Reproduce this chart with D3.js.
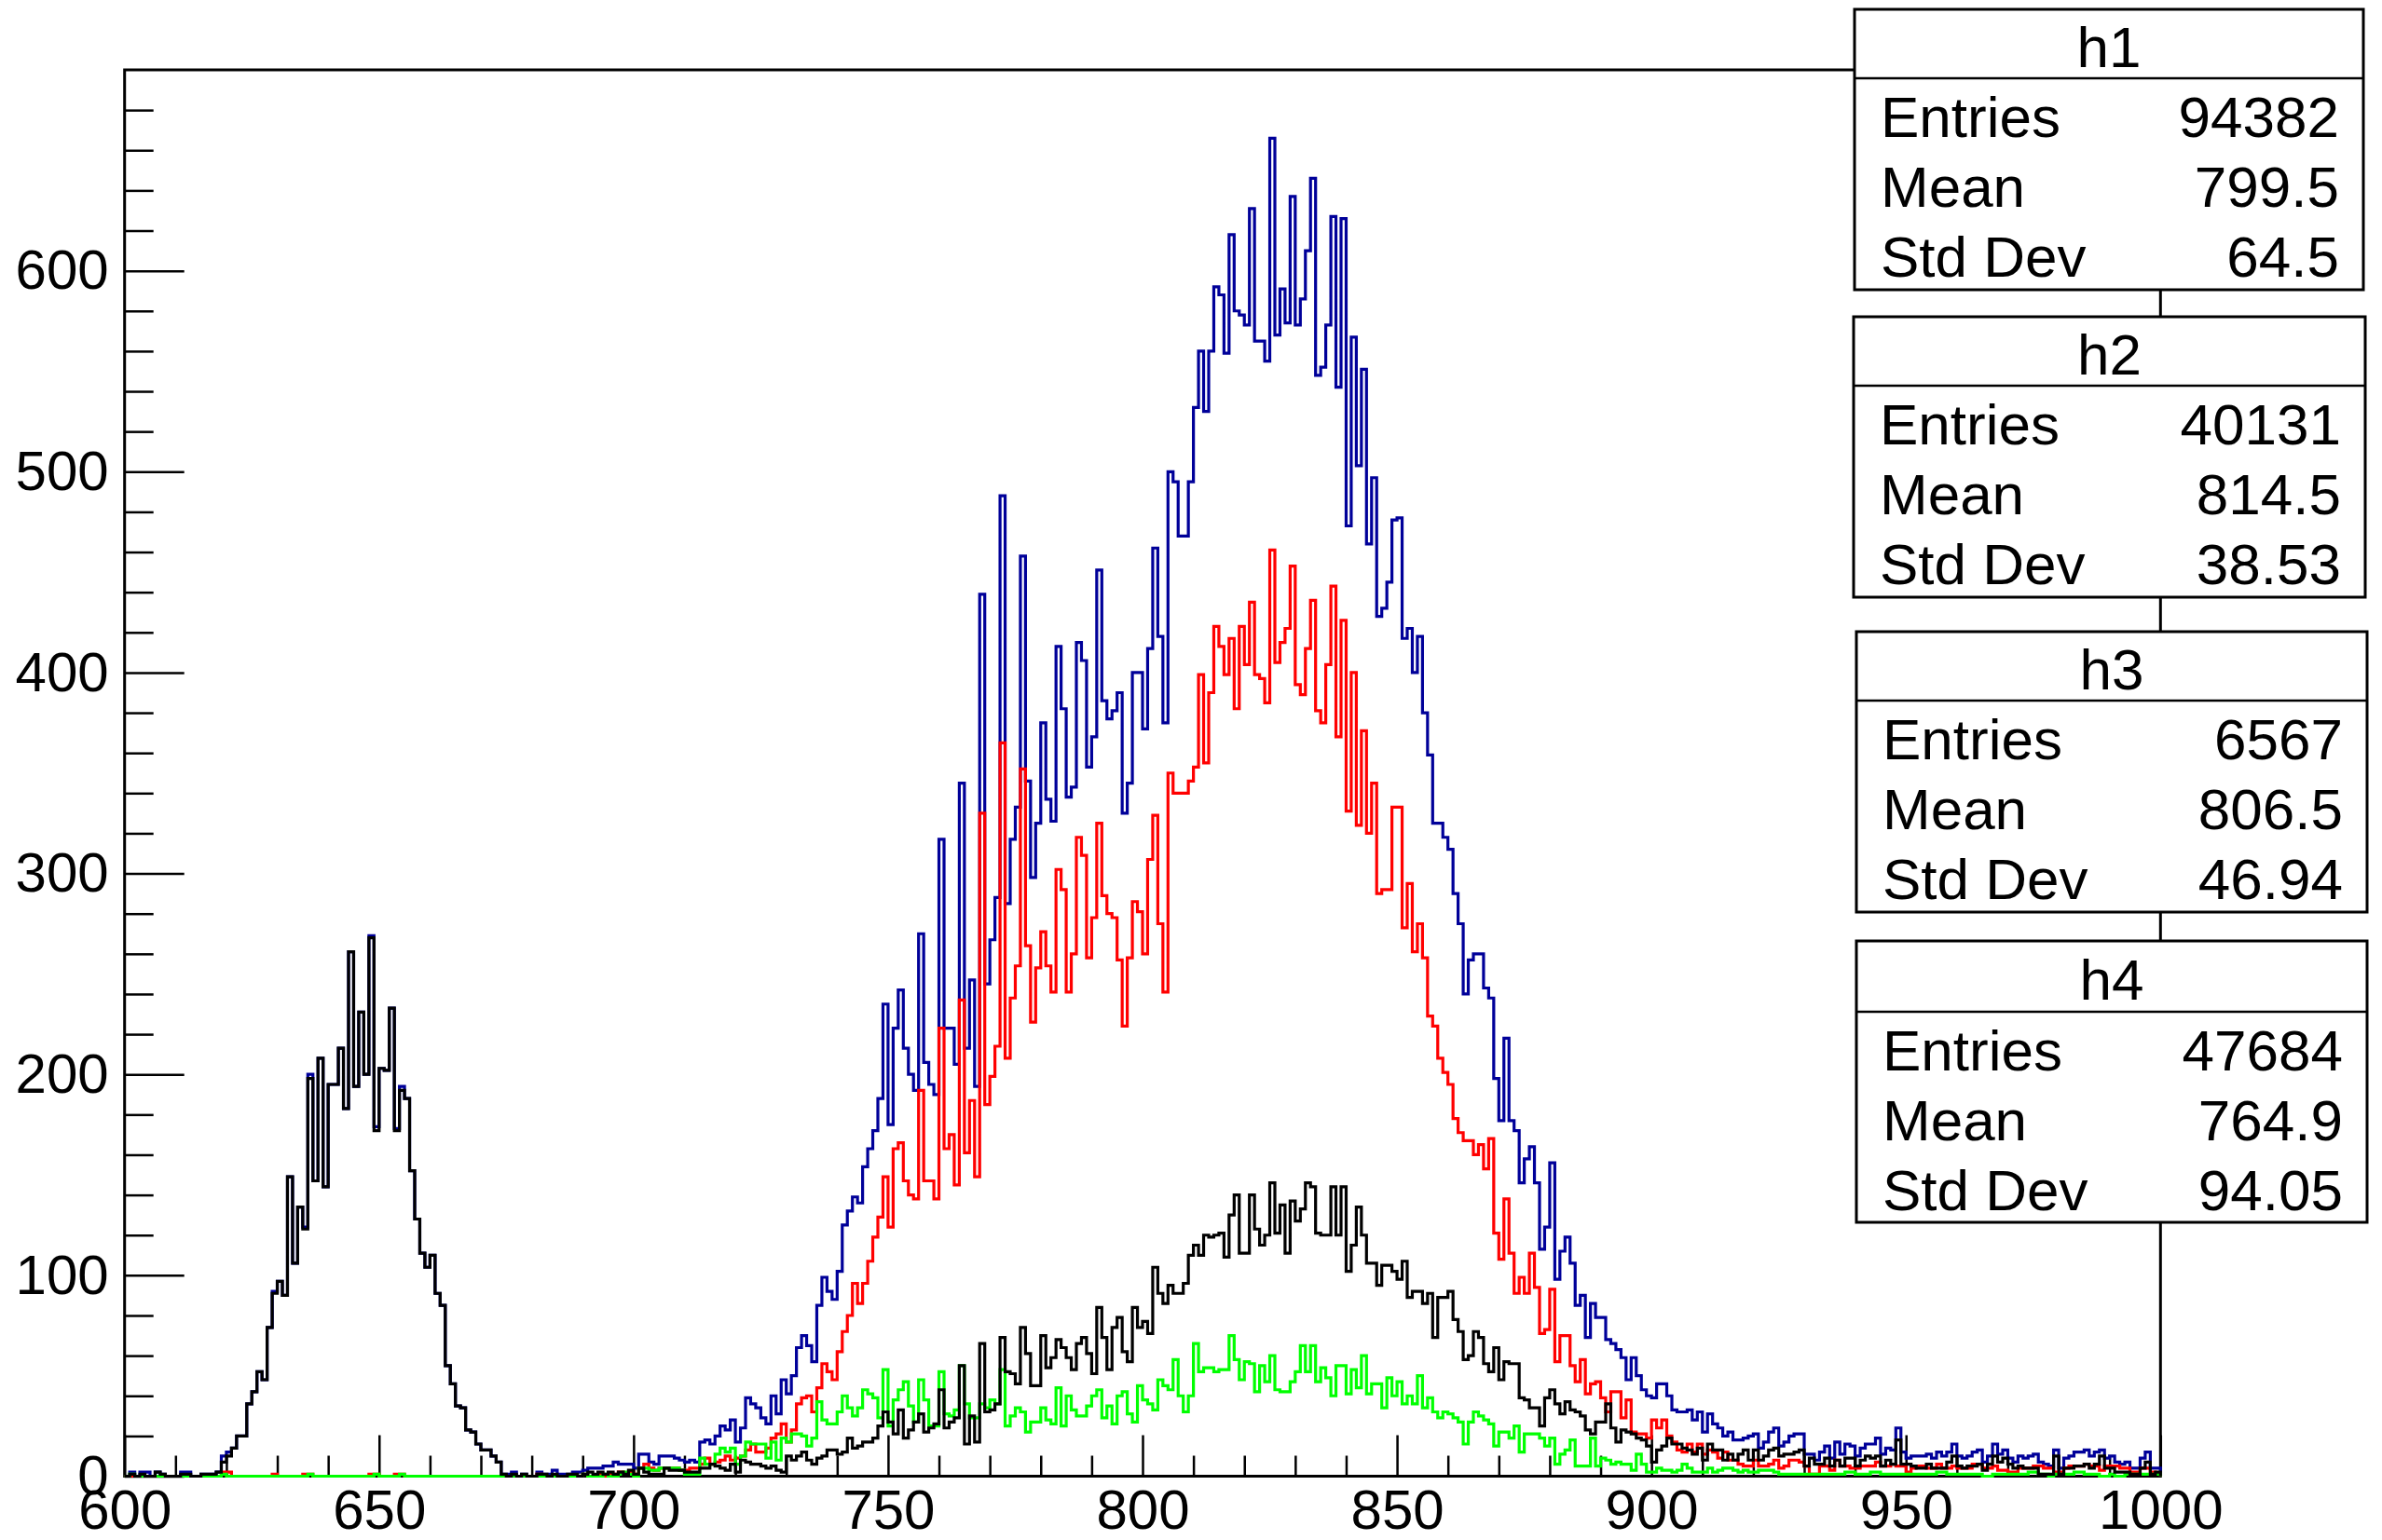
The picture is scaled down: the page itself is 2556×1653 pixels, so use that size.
<!DOCTYPE html>
<html><head><meta charset="utf-8">
<script src="https://cdn.jsdelivr.net/npm/d3@7"></script>
<style>
html,body{margin:0;padding:0;background:#fff;}
svg{display:block;}
text{font-family:"Liberation Sans", Arial, Helvetica, sans-serif;fill:#000;}
</style>
</head><body>
<svg id="chart" width="2556" height="1653"></svg>
<script>
// ---- data: bin contents for bins [600,601), [601,602), ... [999,1000) ----
const binStart = 600;
const binWidth = 1;

const h1Counts = [
0,2,0,2,2,0,2,1,0,0,
0,2,2,0,0,1,1,1,2,10,
12,14,20,20,36,42,52,48,74,92,
97,90,149,106,134,124,200,147,208,144,
195,195,213,183,261,194,231,200,269,174,
203,202,233,173,194,188,152,128,111,104,
110,91,85,55,46,35,34,23,22,16,
13,13,10,7,1,1,2,0,1,0,
0,2,1,1,3,1,1,1,2,2,
3,4,4,4,5,5,7,6,6,6,
4,11,11,7,6,10,10,10,9,8,
7,8,7,17,18,16,20,25,23,28,
17,24,39,36,34,29,26,40,31,48,
41,50,64,70,65,57,85,99,92,88,
102,125,132,139,136,154,163,172,188,235,
175,223,242,213,200,192,270,206,195,190,
317,223,223,205,345,213,247,194,439,245,
267,288,488,285,317,333,458,346,298,325,
375,337,326,413,382,338,343,415,406,353,
368,451,386,377,381,390,330,345,400,400,
372,412,462,418,375,500,495,468,468,495,
532,560,530,560,592,588,559,618,580,578,
573,631,565,565,555,666,568,591,574,637,
573,586,610,646,548,552,573,627,542,626,
473,567,503,551,464,497,428,432,445,476,
477,417,422,400,418,380,359,325,325,318,
312,290,275,240,257,260,260,243,238,198,
177,218,177,172,146,158,164,146,113,124,
156,98,112,119,106,85,90,69,86,79,
79,68,66,63,59,48,59,50,43,40,
39,46,46,40,33,32,32,33,28,32,
22,31,26,24,20,22,18,18,19,20,
21,14,17,22,24,15,17,20,21,21,
11,11,8,12,15,9,17,11,16,15,
10,14,16,16,19,11,14,13,24,12,
9,10,10,10,11,9,12,10,12,16,
10,9,10,12,13,7,10,16,11,13,
9,7,10,9,10,11,7,6,5,13,
4,9,10,12,12,13,10,12,13,9,
10,7,6,7,4,4,9,12,4,4
];

const h2Counts = [
0,0,0,0,0,0,0,0,0,0,
0,0,0,0,0,0,0,0,0,2,
2,0,0,0,0,0,0,0,0,1,
0,0,0,0,0,1,1,0,0,0,
0,0,0,0,0,0,0,0,1,1,
0,0,0,1,1,0,0,0,0,0,
0,0,0,0,0,0,0,0,0,0,
0,0,0,0,0,0,0,0,0,0,
0,1,0,0,0,0,0,0,0,0,
1,0,0,1,0,1,1,2,1,2,
1,4,6,4,3,4,4,4,4,3,
3,4,4,6,9,6,7,8,10,8,
9,10,13,16,12,12,14,19,21,26,
17,23,36,39,40,32,44,56,52,48,
62,72,80,96,86,96,107,119,129,149,
124,163,166,147,140,138,192,147,147,138,
223,163,170,145,237,161,187,149,330,185,
199,214,365,208,238,254,352,264,226,253,
271,254,241,302,292,241,260,318,309,258,
278,325,289,280,278,257,224,258,286,281,
260,307,329,275,241,350,340,340,340,346,
353,399,355,390,423,413,399,417,382,423,
404,435,399,397,385,461,405,415,422,453,
394,389,412,436,381,375,404,443,368,426,
331,400,324,371,320,345,290,292,292,333,
333,273,295,261,275,258,229,224,208,201,
195,178,171,167,167,160,165,153,168,121,
108,138,111,91,99,91,111,94,71,73,
93,57,70,70,55,47,58,41,46,47,
39,32,42,42,29,38,22,21,21,19,
28,24,28,20,17,13,12,16,12,16,
11,13,12,9,12,8,8,6,5,5,
8,5,5,6,8,4,5,8,8,7,
5,1,1,5,5,3,8,5,5,4,
4,5,5,5,7,5,5,6,5,5,
2,4,5,5,4,4,6,4,4,5,
4,4,4,6,6,4,4,5,3,3,
2,2,4,4,4,5,5,4,4,2,
2,4,5,5,5,6,5,5,3,5,
5,5,4,4,2,2,4,4,2,1
];

const h3Counts = [
0,1,0,0,0,0,0,0,0,0,
0,0,0,0,0,0,0,0,0,1,
0,0,0,0,0,0,0,0,0,0,
0,0,0,0,0,0,1,0,0,0,
0,0,0,0,0,0,0,0,0,1,
0,0,0,0,1,0,0,0,0,0,
0,0,0,0,0,0,0,0,0,0,
0,0,0,0,0,0,0,0,0,0,
0,0,0,0,0,0,0,0,0,0,
1,0,0,0,1,0,0,1,2,1,
0,4,4,3,3,4,4,4,4,3,
1,1,1,9,6,6,11,14,12,14,
6,10,17,16,16,16,9,17,8,19,
17,21,21,20,15,19,37,28,26,26,
32,40,34,30,34,43,41,39,29,53,
25,38,43,47,35,27,48,38,25,25,
52,31,30,33,55,36,29,29,36,34,
38,36,53,25,30,34,32,22,27,27,
34,28,26,44,25,40,33,30,30,35,
40,43,29,35,26,40,42,31,27,45,
38,36,33,48,45,43,58,40,32,40,
66,52,54,54,52,53,53,70,58,48,
57,56,42,55,47,60,43,42,42,47,
52,65,52,65,47,54,49,40,55,55,
41,53,44,60,41,46,46,34,49,40,
47,36,40,36,50,34,39,32,29,32,
31,29,27,16,27,32,30,28,26,15,
22,22,19,25,12,21,21,21,19,15,
19,6,11,13,18,5,5,5,19,5,
9,8,6,7,6,6,3,11,6,2,
2,4,3,3,2,3,6,4,2,2,
2,4,2,3,4,4,3,2,3,2,
2,3,3,3,2,1,1,1,1,1,
1,1,1,1,1,1,1,1,2,2,
1,1,1,2,2,1,1,1,1,1,
1,1,1,1,1,1,2,2,1,1,
1,1,1,1,1,0,0,1,1,1,
1,1,1,1,2,2,1,1,0,1,
1,1,1,2,2,1,1,1,0,0,
1,0,0,1,1,1,1,1,1,1
];

const h4Counts = [
0,1,0,1,0,0,2,1,0,0,
0,1,1,0,0,1,1,1,2,7,
10,14,20,20,36,42,52,48,74,91,
97,90,149,106,134,123,198,147,208,144,
195,195,213,183,261,194,231,200,268,172,
203,202,233,172,192,188,152,128,111,104,
110,91,85,55,46,35,34,23,22,16,
13,13,10,7,1,0,1,0,1,0,
0,1,1,0,1,0,0,1,1,0,
1,2,1,2,1,2,1,2,1,3,
1,4,2,1,1,1,4,3,3,3,
2,2,2,4,4,6,5,4,3,6,
2,8,7,6,6,5,4,5,3,2,
10,8,10,12,8,6,9,10,13,13,
11,12,19,14,15,17,17,19,25,32,
27,21,33,19,23,27,31,22,24,26,
43,24,27,29,55,16,30,17,66,32,
33,36,69,52,51,46,74,61,45,45,
70,54,59,68,64,59,53,66,69,61,
51,84,69,53,74,79,62,57,84,74,
77,71,104,91,86,95,91,91,96,110,
115,110,120,119,120,121,109,130,140,111,
111,140,123,115,120,146,121,135,111,137,
127,133,146,144,121,120,120,144,120,144,
102,115,134,120,106,106,95,105,105,102,
98,107,89,92,92,86,91,69,89,89,
92,78,72,58,60,72,69,56,52,64,
48,57,56,56,39,38,34,34,25,39,
43,36,31,37,33,32,30,23,21,27,
27,36,24,17,23,22,21,19,18,15,
7,13,15,19,16,16,14,13,11,14,
8,16,13,13,8,11,8,11,13,8,
13,8,10,13,14,10,11,11,12,13,
5,9,6,6,9,5,8,5,9,9,
5,8,10,9,10,5,8,6,18,6,
6,5,4,4,6,4,4,4,7,10,
5,4,5,5,6,3,6,10,7,9,
6,4,5,4,4,4,1,1,1,10,
1,4,4,5,5,6,4,6,10,4,
4,2,2,2,1,1,4,7,1,2
];

const seriesNames  = ["h1", "h2", "h3", "h4"];
const seriesColors = ["#000099", "#ff0000", "#00ff00", "#000000"];
const statEntries  = ["94382", "40131", "6567", "47684"];
const statMeans    = ["799.5", "814.5", "806.5", "764.9"];
const statStdDevs  = ["64.5", "38.53", "46.94", "94.05"];
const statLabels   = ["Entries", "Mean", "Std Dev"];

const xDomain = [600, 1000];
const yDomain = [0, 700];
const xMajorTicks = [600, 650, 700, 750, 800, 850, 900, 950, 1000];
const xMinorTicks = [610,620,630,640,660,670,680,690,710,720,730,740,760,770,780,790,
                     810,820,830,840,860,870,880,890,910,920,930,940,960,970,980,990];
const yMajorTicks = [0, 100, 200, 300, 400, 500, 600];
const yMinorTicks = [20,40,60,80,120,140,160,180,220,240,260,280,320,340,360,380,
                     420,440,460,480,520,540,560,580,620,640,660,680];

// ---- layout ----
const W = 2556, H = 1653;
const plot = {left: 133.7, right: 2318.3, top: 75, bottom: 1584.5};
const svg = d3.select("#chart");
svg.append("rect").attr("width", W).attr("height", H).attr("fill", "#fff");

const x = d3.scaleLinear().domain(xDomain).range([plot.left, plot.right]);
const y = d3.scaleLinear().domain(yDomain).range([plot.bottom, plot.top]);

// axes (ticks pointing inside, ROOT style)
const gx = svg.append("g").attr("transform", `translate(0,${plot.bottom})`);
gx.append("g").call(d3.axisBottom(x).tickValues(xMinorTicks).tickSize(-22).tickFormat(""))
  .call(g => g.select(".domain").remove());
gx.append("g").call(d3.axisBottom(x).tickValues(xMajorTicks).tickSize(-44).tickPadding(14).tickFormat(d3.format("d")))
  .call(g => g.select(".domain").remove());
gx.selectAll("line").attr("stroke", "#000").attr("stroke-width", 2.5);
gx.selectAll("text").attr("font-size", 60).attr("font-family", "Liberation Sans, Arial, sans-serif").attr("fill", "#000");

const gy = svg.append("g").attr("transform", `translate(${plot.left},0)`);
gy.append("g").call(d3.axisLeft(y).tickValues(yMinorTicks).tickSize(-31).tickFormat(""))
  .call(g => g.select(".domain").remove());
gy.append("g").call(d3.axisLeft(y).tickValues(yMajorTicks).tickSize(-64).tickPadding(17).tickFormat(d3.format("d")))
  .call(g => g.select(".domain").remove());
gy.selectAll("line").attr("stroke", "#000").attr("stroke-width", 2.5);
gy.selectAll("text").attr("font-size", 60).attr("font-family", "Liberation Sans, Arial, sans-serif").attr("fill", "#000");

// frame
svg.append("rect")
  .attr("x", plot.left).attr("y", plot.top)
  .attr("width", plot.right - plot.left).attr("height", plot.bottom - plot.top)
  .attr("fill", "none").attr("stroke", "#000").attr("stroke-width", 3);

// histograms
svg.append("clipPath").attr("id", "plotclip").append("rect")
  .attr("x", plot.left - 2).attr("y", plot.top).attr("width", plot.right - plot.left + 4).attr("height", plot.bottom - plot.top + 2);

const stepLine = d3.line().x(d => x(d.x)).y(d => y(d.y)).curve(d3.curveStepAfter);
function histPoints(counts) {
  const pts = [{x: binStart, y: 0}];
  counts.forEach((c, i) => pts.push({x: binStart + i * binWidth, y: c}));
  const end = binStart + counts.length * binWidth;
  pts.push({x: end, y: counts[counts.length - 1]});
  pts.push({x: end, y: 0});
  return pts;
}
const allCounts = [h1Counts, h2Counts, h3Counts, h4Counts];
const gh = svg.append("g").attr("clip-path", "url(#plotclip)");
gh.selectAll("path.hist").data(allCounts).join("path")
  .attr("class", "hist")
  .attr("d", d => stepLine(histPoints(d)))
  .attr("fill", "none")
  .attr("stroke", (d, i) => seriesColors[i])
  .attr("stroke-width", 3.2)
  .attr("stroke-linejoin", "miter");

// stats boxes
const boxes = [
  {x0: 1990, x1: 2536, y0: 10,   ysep: 84,   y1: 311},
  {x0: 1989, x1: 2538, y0: 340,  ysep: 414,  y1: 641},
  {x0: 1992, x1: 2540, y0: 678,  ysep: 752,  y1: 979},
  {x0: 1992, x1: 2540, y0: 1010, ysep: 1086, y1: 1312}
];
const gs = svg.append("g");
seriesNames.forEach((name, i) => {
  const b = boxes[i];
  const g = gs.append("g");
  g.append("rect").attr("x", b.x0).attr("y", b.y0).attr("width", b.x1 - b.x0).attr("height", b.y1 - b.y0)
    .attr("fill", "#fff").attr("stroke", "#000").attr("stroke-width", 3);
  g.append("line").attr("x1", b.x0).attr("x2", b.x1).attr("y1", b.ysep).attr("y2", b.ysep)
    .attr("stroke", "#000").attr("stroke-width", 2.5);
  g.append("text").attr("x", (b.x0 + b.x1) / 2).attr("y", (b.y0 + b.ysep) / 2 + 3).attr("dy", "0.35em")
    .attr("text-anchor", "middle").attr("font-size", 62).text(name);
  const vals = [statEntries[i], statMeans[i], statStdDevs[i]];
  statLabels.forEach((lab, r) => {
    const cy = b.ysep + 41 + r * 75;
    g.append("text").attr("x", b.x0 + 28).attr("y", cy).attr("dy", "0.35em")
      .attr("font-size", 62).text(lab);
    g.append("text").attr("x", b.x1 - 26).attr("y", cy).attr("dy", "0.35em")
      .attr("text-anchor", "end").attr("font-size", 62).text(vals[r]);
  });
});
</script>
</body></html>
